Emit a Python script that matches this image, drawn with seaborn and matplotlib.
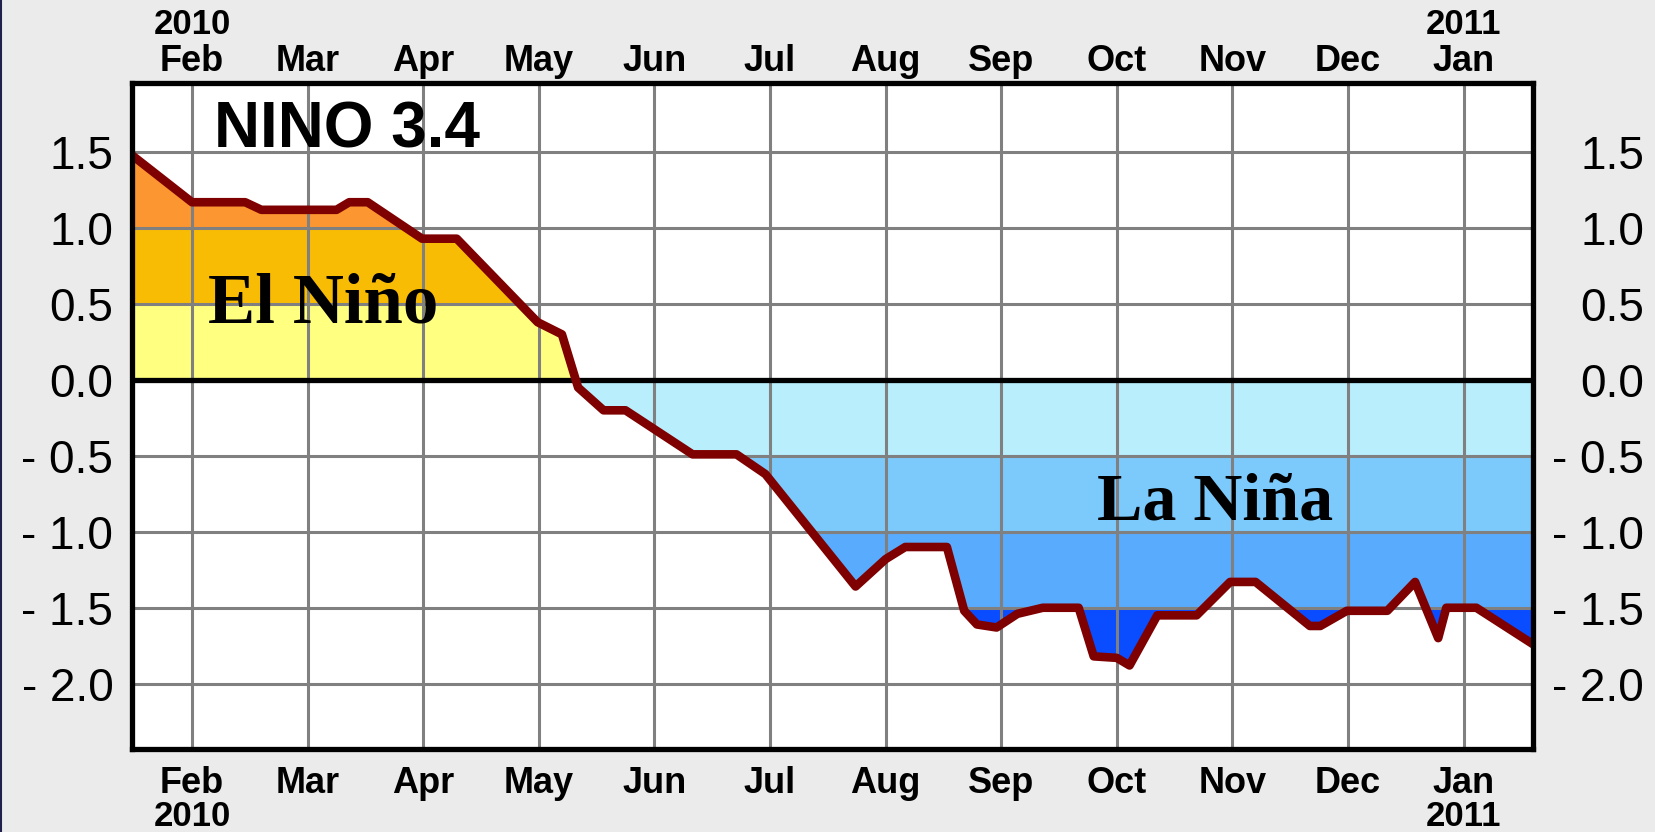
import numpy as np
import matplotlib
matplotlib.use("Agg")
import matplotlib.pyplot as plt
from matplotlib.lines import Line2D
from matplotlib.transforms import blended_transform_factory
import seaborn as sns

# ── Data ─────────────────────────────────────────────────────────────────────
# x is in month units: 1 = Feb 2010 ... 12 = Jan 2011 (months drawn equal width)
months    = ["Feb", "Mar", "Apr", "May", "Jun", "Jul",
             "Aug", "Sep", "Oct", "Nov", "Dec", "Jan"]
month_pos = list(range(1, 13))
years     = ["2010", "2011"]
year_pos  = [1, 12]

week_pos = [0.48, 1.00, 1.46, 1.60, 2.25, 2.36, 2.52, 2.99, 3.29, 3.99,
            4.20, 4.34, 4.56, 4.75, 5.33, 5.71, 5.96, 6.74, 7.00, 7.17,
            7.53, 7.68, 7.79, 7.96, 8.14, 8.36, 8.67, 8.80, 9.00, 9.11,
            9.35, 9.69, 9.98, 10.20, 10.67, 10.76, 10.99, 11.34, 11.58, 11.78,
            11.85, 12.11, 12.60]
nino34   = [1.48, 1.17, 1.17, 1.12, 1.12, 1.17, 1.17, 0.93, 0.93, 0.38,
            0.30, -0.05, -0.20, -0.20, -0.49, -0.49, -0.62, -1.36, -1.18, -1.10,
            -1.10, -1.52, -1.61, -1.63, -1.54, -1.50, -1.50, -1.82, -1.83, -1.88,
            -1.55, -1.55, -1.33, -1.33, -1.62, -1.62, -1.52, -1.52, -1.33, -1.70,
            -1.50, -1.50, -1.74]

y_ticks       = [-2.0, -1.5, -1.0, -0.5, 0.0, 0.5, 1.0, 1.5]
y_tick_labels = ["- 2.0", "- 1.5", "- 1.0", "- 0.5", "0.0", "0.5", "1.0", "1.5"]

# anomaly bands: (edge near zero, far edge, colour)
warm_bands = [(0.0, 0.5, "#FFFF80"), (0.5, 1.0, "#F9BC05"), (1.0, 1.5, "#FC9630")]
cold_bands = [(0.0, -0.5, "#B9EEFD"), (-0.5, -1.0, "#7BCAFB"),
              (-1.0, -1.5, "#59ABFD"), (-1.5, -2.0, "#0A4CFF")]

# ── Style ────────────────────────────────────────────────────────────────────
sns.set_style("white")
plt.rcParams["font.family"] = ["Liberation Sans", "DejaVu Sans"]
plt.rcParams["text.color"] = "black"
plt.rcParams["xtick.color"] = "black"
plt.rcParams["ytick.color"] = "black"
plt.rcParams["xtick.labelcolor"] = "black"
plt.rcParams["ytick.labelcolor"] = "black"

BG = "#EBEBEB"
W, H = 1655, 832
L, R, T, B = 132, 1533, 83, 749

fig = plt.figure(figsize=(W / 100, H / 100), dpi=100, facecolor=BG)
ax = fig.add_axes([L / W, 1 - B / H, (R - L) / W, (B - T) / H])
ax.set_facecolor("white")

x = np.array(week_pos)
y = np.array(nino34)
xf = np.linspace(x[0], x[-1], 5000)
yf = np.interp(xf, x, y)

for lo, hi, col in warm_bands:
    ax.fill_between(xf, lo, np.clip(yf, lo, hi), color=col, lw=0, zorder=1)
for hi, lo, col in cold_bands:
    ax.fill_between(xf, hi, np.clip(yf, lo, hi), color=col, lw=0, zorder=1)

# grid above the fills
for m in month_pos:
    ax.axvline(m, color="#808080", lw=2.2, zorder=2)
for v in y_ticks:
    if v != 0:
        ax.axhline(v, color="#808080", lw=2.2, zorder=2)
ax.axhline(0, color="black", lw=3.8, zorder=3)

sns.lineplot(x=x, y=y, ax=ax, color="#7F0000", linewidth=6.2, estimator=None,
             sort=False, zorder=5)

ax.set_xlim(0.481, 12.60)
ax.set_ylim(-2.43, 1.955)

for s in ax.spines.values():
    s.set_visible(True)
    s.set_color("black")
    s.set_linewidth(3.8)
    s.set_zorder(6)

# ── Ticks ────────────────────────────────────────────────────────────────────
ax.set_yticks(y_ticks)
ax.set_yticklabels(y_tick_labels)
ax.tick_params(axis="y", length=0, pad=13.5, labelsize=33, labelcolor="black")

ax2 = ax.twinx()
ax2.set_ylim(ax.get_ylim())
ax2.set_yticks(y_ticks)
ax2.set_yticklabels(y_tick_labels)
ax2.tick_params(axis="y", length=0, pad=80, labelsize=33, labelcolor="black")
for lbl in ax2.get_yticklabels():
    lbl.set_horizontalalignment("right")
for s in ax2.spines.values():
    s.set_visible(False)

ax.set_xticks(month_pos)
ax.set_xticklabels(months, fontweight="bold")
ax.tick_params(axis="x", length=0, pad=12, labelsize=26, labelcolor="black")

top = ax.secondary_xaxis("top")
top.set_xticks(month_pos)
top.set_xticklabels(months, fontweight="bold")
top.tick_params(axis="x", length=0, pad=3, labelsize=26, labelcolor="black")
top.spines["top"].set_visible(False)

tr = blended_transform_factory(ax.transData, fig.transFigure)
for yr, p in zip(years, year_pos):
    ax.text(p, 1 - 25 / H, yr, transform=tr, ha="center", va="center",
            fontsize=25, fontweight="bold", color="black")
    ax.text(p, 1 - 816 / H, yr, transform=tr, ha="center", va="center",
            fontsize=25, fontweight="bold", color="black")

# ── Labels inside the plot ───────────────────────────────────────────────────
ax.text(1.19, 1.53, "NINO 3.4", ha="left", va="baseline", fontsize=46,
        fontweight="bold", color="black", zorder=7)
ax.text(1.14, 0.375, "El Niño", ha="left", va="baseline", fontsize=51,
        fontweight="bold", color="black",
        family=["Liberation Serif", "DejaVu Serif"], zorder=7)
ax.text(8.83, -0.92, "La Niña", ha="left", va="baseline", fontsize=49,
        fontweight="bold", color="black",
        family=["Liberation Serif", "DejaVu Serif"], zorder=7)

fig.add_artist(Line2D([0.0005, 0.0005], [0, 1], color="#20204A", lw=1.5))

fig.savefig("out.png", dpi=100, facecolor=BG)
